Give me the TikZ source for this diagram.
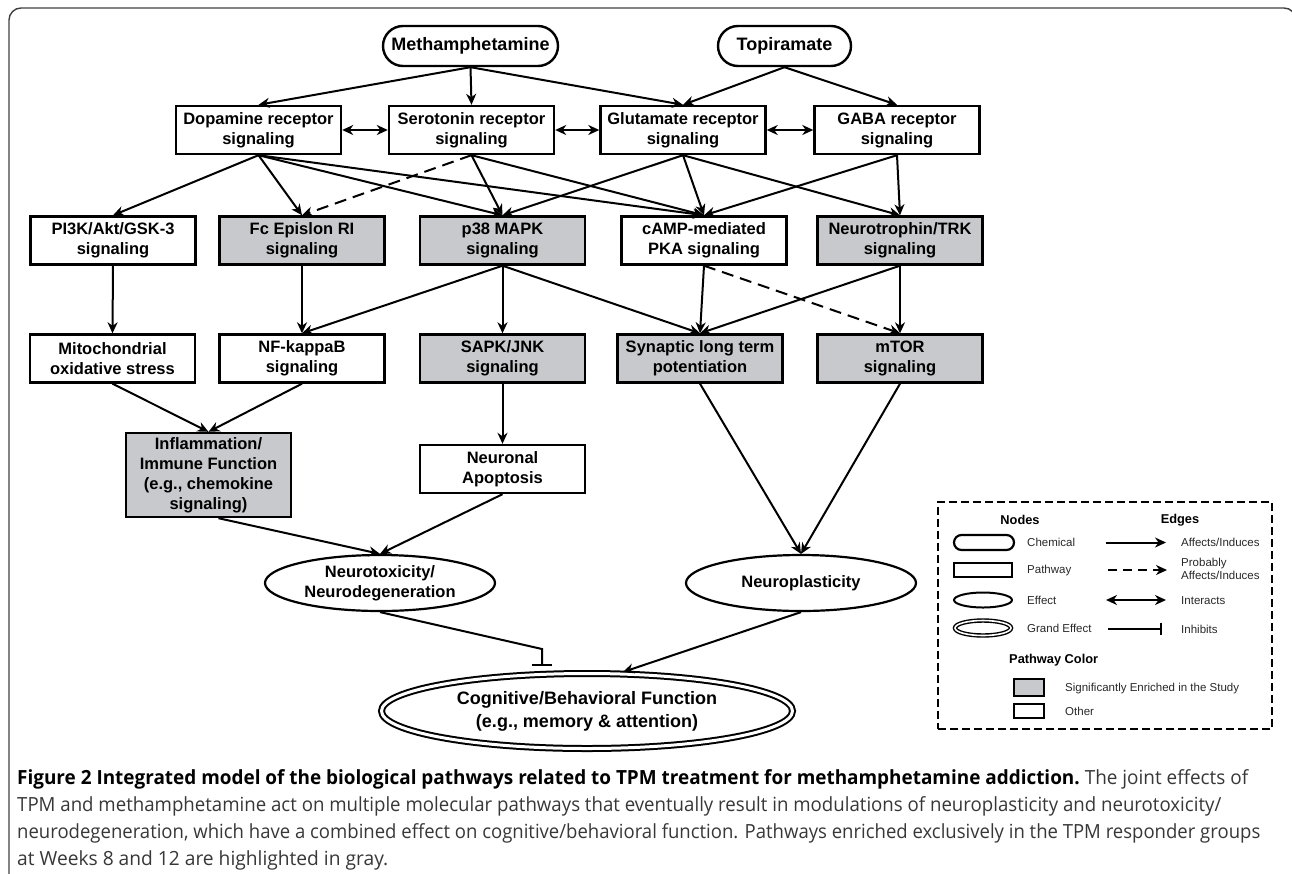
\documentclass[tikz,border=0pt]{standalone}
\usepackage{fontspec}
\usepackage{graphicx}
\setmainfont{Liberation Sans}
\newfontfamily\capfont{Open Sans}
\usetikzlibrary{arrows.meta,shapes.geometric,shapes.misc,calc}
\definecolor{enrgray}{RGB}{200,201,204}
\definecolor{capgray}{RGB}{55,55,55}
\definecolor{labgray}{RGB}{40,40,40}
\begin{document}
\begin{tikzpicture}[x=1pt,y=-1pt,
  >={Stealth[length=11pt,width=10pt,inset=3.5pt]},
  pbox/.style={draw, rectangle, line width=2.4pt, minimum width=165pt, minimum height=48pt,
    inner sep=0pt, align=center, fill=white, font=\fontsize{16.5}{20}\selectfont\bfseries},
  ebox/.style={pbox, fill=enrgray},
  chem/.style={draw, rounded rectangle, line width=2.4pt, minimum height=40pt, inner sep=0pt,
    font=\fontsize{18}{21}\selectfont\bfseries},
  eff/.style={draw, ellipse, line width=2.2pt, minimum width=230pt, minimum height=56pt,
    inner sep=0pt, align=center, font=\fontsize{16.5}{20}\selectfont\bfseries},
  conn/.style={line width=2pt, ->},
  prob/.style={conn, dash pattern=on 12pt off 7pt},
  inter/.style={line width=2pt, <->},
  inhib/.style={line width=2pt, -{Bar[width=20pt]}},
  lab/.style={anchor=west, inner sep=0pt, text=labgray, font=\fontsize{11.5}{13.5}\selectfont},
  lhead/.style={inner sep=0pt, font=\fontsize{12.8}{15}\selectfont\bfseries},
  capline/.style={anchor=base west, inner sep=0pt}
]
\path[use as bounding box] (0,0) rectangle (1292,873);
\begin{scope}
\clip (0,0) rectangle (1292,873);
\draw[line width=1.4pt, black!75, rounded corners=12pt] (9,900) -- (9,8) -- (1296,8) -- (1296,900);
\end{scope}

% chemicals
\node[chem, minimum width=175pt] (meth) at (470.5,46) {Methamphetamine};
\node[chem, minimum width=133pt] (topi) at (784.5,46) {Topiramate};

% receptor row
\node[pbox] (dop) at (258.5,130) {Dopamine receptor\\signaling};
\node[pbox] (ser) at (471.5,130) {Serotonin receptor\\signaling};
\node[pbox] (glu) at (683,130) {Glutamate receptor\\signaling};
\node[pbox] (gaba) at (897,130) {GABA receptor\\signaling};

% row 2
\node[pbox] (pi3k) at (113,240.5) {PI3K/Akt/GSK-3\\signaling};
\node[ebox] (fc) at (302,240.5) {Fc Epislon RI\\signaling};
\node[ebox] (p38) at (502.5,240.5) {p38 MAPK\\signaling};
\node[pbox] (camp) at (704,240.5) {cAMP-mediated\\PKA signaling};
\node[ebox] (ntrk) at (900,240.5) {Neurotrophin/TRK\\signaling};

% row 3
\node[pbox] (mito) at (112.5,358.5) {Mitochondrial\\oxidative stress};
\node[pbox] (nfkb) at (302,358.5) {NF-kappaB\\signaling};
\node[ebox] (sapk) at (502.5,358.5) {SAPK/JNK\\signaling};
\node[ebox] (ltp) at (700,358.5) {Synaptic long term\\potentiation};
\node[ebox] (mtor) at (900,358.5) {mTOR\\signaling};

% row 4
\node[ebox, minimum height=84pt] (infl) at (208.5,475) {Inflammation/\\Immune Function\\(e.g., chemokine\\signaling)};
\node[pbox] (apop) at (502.5,469) {Neuronal\\Apoptosis};

% effects
\node[eff] (ntox) at (380,583) {Neurotoxicity/\\Neurodegeneration};
\node[eff] (nplas) at (801,583) {Neuroplasticity};
\node[draw, ellipse, line width=2pt, double, double distance=3pt, minimum width=411pt,
  minimum height=75pt, inner sep=0pt, align=center, font=\fontsize{18}{23}\selectfont\bfseries]
  (cog) at (587,711) {Cognitive/Behavioral Function\\(e.g., memory \& attention)};

% edges: chemicals -> receptors
\draw[conn] (meth.south) -- (dop.north);
\draw[conn] (meth.south) -- (ser.north);
\draw[conn] (meth.south) -- (glu.north);
\draw[conn] (topi.south) -- (glu.north);
\draw[conn] (topi.south) -- (gaba.north);
% interactions
\draw[inter] (dop.east) -- (ser.west);
\draw[inter] (ser.east) -- (glu.west);
\draw[inter] (glu.east) -- (gaba.west);
% receptors -> row 2
\draw[conn] (dop.south) -- (pi3k.north);
\draw[conn] (dop.south) -- (fc.north);
\draw[conn] (dop.south) -- (p38.north);
\draw[conn] (dop.south) -- (camp.north);
\draw[prob] (ser.south) -- (fc.north);
\draw[conn] (ser.south) -- (p38.north);
\draw[conn] (ser.south) -- (camp.north);
\draw[conn] (glu.south) -- (p38.north);
\draw[conn] (glu.south) -- (camp.north);
\draw[conn] (glu.south) -- (ntrk.north);
\draw[conn] (gaba.south) -- (camp.north);
\draw[conn] (gaba.south) -- (ntrk.north);
% row 2 -> row 3
\draw[conn] (pi3k.south) -- (mito.north);
\draw[conn] (fc.south) -- (nfkb.north);
\draw[conn] (p38.south) -- (nfkb.north);
\draw[conn] (p38.south) -- (sapk.north);
\draw[conn] (p38.south) -- (ltp.north);
\draw[conn] (camp.south) -- (ltp.north);
\draw[prob] (camp.south) -- (mtor.north);
\draw[conn] (ntrk.south) -- (ltp.north);
\draw[conn] (ntrk.south) -- (mtor.north);
% row 3 -> row 4 / effects
\draw[conn] (mito.south) -- (infl.north);
\draw[conn] (nfkb.south) -- (infl.north);
\draw[conn] (sapk.south) -- (apop.north);
\draw[conn] (ltp.south) -- (nplas.north);
\draw[conn] (mtor.south) -- (nplas.north);
\draw[conn] ($(infl.south)+(10,0)$) -- (ntox.north);
\draw[conn] (apop.south) -- (ntox.north);
% effects -> cognitive
\coordinate (inhk) at (542,649);
\coordinate (inhe) at (542,666);
\draw[inhib] (ntox.south) -- (inhk) -- (inhe);
\draw[conn, shorten >=3pt] (nplas.south) -- (cog.49);

% legend
\node[draw, dash pattern=on 8pt off 4pt, line width=2.2pt, minimum width=334pt,
  minimum height=227pt, inner sep=0pt] (legend) at (1105,615.5) {};
\node[lhead] (lnodes) at (1020,520) {Nodes};
\node[lhead] (ledges) at (1180,520) {Edges};
\node[draw, rounded rectangle, line width=2.2pt, minimum width=60pt, minimum height=15pt, inner sep=0pt] (lchem) at (984,542.5) {};
\node[draw, rectangle, line width=2.2pt, minimum width=58pt, minimum height=14pt, inner sep=0pt] (lpath) at (983,570) {};
\node[draw, ellipse, line width=2pt, minimum width=58pt, minimum height=15pt, inner sep=0pt] (leff) at (983,600) {};
\node[draw, ellipse, line width=1.4pt, double, double distance=1.6pt, minimum width=56pt, minimum height=15pt, inner sep=0pt] (lgrand) at (983,628) {};
\node[lab] (tchem) at (1027,542.5) {Chemical};
\node[lab] (tpath) at (1027,570.5) {Pathway};
\node[lab] (teff) at (1027,600) {Effect};
\node[lab] (tgrand) at (1027,628) {Grand Effect};
\coordinate (e1a) at (1106,542.5); \coordinate (e1b) at (1166,542.5);
\coordinate (e2a) at (1108,570); \coordinate (e2b) at (1167,570);
\coordinate (e3a) at (1106,600); \coordinate (e3b) at (1166,600);
\coordinate (e4a) at (1108,628.5); \coordinate (e4b) at (1162,628.5);
\draw[conn] (e1a) -- (e1b);
\draw[conn, dash pattern=on 9pt off 6pt] (e2a) -- (e2b);
\draw[inter] (e3a) -- (e3b);
\draw[line width=2pt, -{Bar[width=12pt]}] (e4a) -- (e4b);
\node[lab] (taff) at (1181,542.5) {Affects/Induces};
\node[lab, align=left] (tprob) at (1181,569) {Probably\\Affects/Induces};
\node[lab] (tint) at (1181,600.5) {Interacts};
\node[lab] (tinh) at (1181,629) {Inhibits};
\node[lhead, anchor=west] (lcol) at (1009,660) {Pathway Color};
\node[draw, line width=2.2pt, fill=enrgray, minimum width=30pt, minimum height=17pt, inner sep=0pt] (lenr) at (1029,687.5) {};
\node[draw, line width=2.2pt, fill=white, minimum width=30pt, minimum height=14pt, inner sep=0pt] (loth) at (1029,711) {};
\node[lab] (tenr) at (1065,689) {Significantly Enriched in the Study};
\node[lab] (toth) at (1065,711.5) {Other};

% caption
\node[capline] (cap1) at (17,784) {\resizebox{1231pt}{\height}{\capfont\fontsize{19.5}{24}\selectfont\textbf{Figure 2 Integrated model of the biological pathways related to TPM treatment for methamphetamine addiction.}\ \textcolor{capgray}{The joint effects of}}};
\node[capline] (cap2) at (17,811) {\resizebox{1204pt}{\height}{\capfont\fontsize{19.5}{24}\selectfont\color{capgray}TPM and methamphetamine act on multiple molecular pathways that eventually result in modulations of neuroplasticity and neurotoxicity/}};
\node[capline] (cap3) at (17,838) {\resizebox{1243pt}{\height}{\capfont\fontsize{19.5}{24}\selectfont\color{capgray}neurodegeneration, which have a combined effect on cognitive/behavioral function. Pathways enriched exclusively in the TPM responder groups}};
\node[capline] (cap4) at (17,865) {\resizebox{371pt}{\height}{\capfont\fontsize{19.5}{24}\selectfont\color{capgray}at Weeks 8 and 12 are highlighted in gray.}};
\end{tikzpicture}
\end{document}
